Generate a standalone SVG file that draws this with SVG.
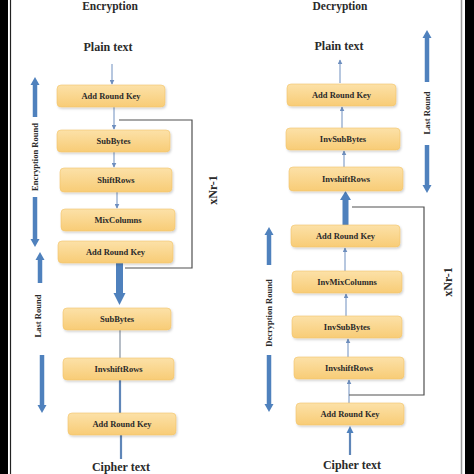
<svg xmlns="http://www.w3.org/2000/svg" width="474" height="474" viewBox="0 0 474 474">
<defs>
<linearGradient id="boxg" x1="0" y1="0" x2="0" y2="1">
<stop offset="0" stop-color="#FCE1A8"/>
<stop offset="1" stop-color="#F8CC76"/>
</linearGradient>
<filter id="sh" x="-10%" y="-20%" width="120%" height="160%">
<feDropShadow dx="1" dy="1.5" stdDeviation="1.2" flood-color="#000" flood-opacity="0.18"/>
</filter>
<marker id="ah" viewBox="0 0 8 8" refX="7" refY="4" markerWidth="5" markerHeight="5" markerUnits="userSpaceOnUse" orient="auto">
<path d="M0,0 L8,4 L0,8 z" fill="#6E8FBF"/>
</marker>
</defs>
<style>
.box{fill:url(#boxg);stroke:#F2C46A;stroke-width:0.6;filter:url(#sh)}
.bl{font-family:"Liberation Serif","Times New Roman",serif;font-weight:bold;font-size:8.5px;fill:#2a2a2a;text-anchor:middle}
.ttl{font-family:"Liberation Serif","Times New Roman",serif;font-weight:bold;font-size:11.5px;fill:#2a2a2a;text-anchor:middle}
.io{font-family:"Liberation Serif","Times New Roman",serif;font-weight:bold;font-size:12px;fill:#2a2a2a;text-anchor:middle}
.vt{font-family:"Liberation Serif","Times New Roman",serif;font-weight:bold;font-size:8.5px;fill:#2a2a2a;text-anchor:middle}
.xn{font-family:"Liberation Serif","Times New Roman",serif;font-weight:bold;font-size:12px;fill:#2a2a2a;text-anchor:middle}
.thin{stroke:#6E8FBF;stroke-width:1;fill:none}
.mid{stroke:#5F86B8;stroke-width:2.2;fill:none}
.grey{stroke:#8E9AA8;stroke-width:1.3;fill:none}
.fb{stroke:#505050;stroke-width:1.2;fill:none}
.bar{stroke:#4F81BD;stroke-width:4.5;fill:none}
.head{fill:#4F81BD}
</style>
<rect x="0" y="0" width="474" height="474" fill="#ffffff"/>
<g id="frame">
<rect x="0" y="0" width="8" height="474" fill="#000"/>
<line x1="10.5" y1="0" x2="10.5" y2="474" stroke="#222" stroke-width="1.2"/>
<rect x="465" y="0" width="9" height="474" fill="#000"/>
<line x1="461.5" y1="0" x2="461.5" y2="474" stroke="#999" stroke-width="1.5"/>
</g>
<g id="titles">
<text class="ttl" x="110" y="10">Encryption</text>
<text class="ttl" x="340" y="10">Decryption</text>
</g>
<g id="connectors">
<line class="thin" x1="112" y1="64" x2="112" y2="84" marker-end="url(#ah)"/>
<line class="thin" x1="114" y1="107" x2="114" y2="129" marker-end="url(#ah)"/>
<line class="thin" x1="114" y1="152" x2="114" y2="167" marker-end="url(#ah)"/>
<line class="thin" x1="117" y1="192" x2="117" y2="208" marker-end="url(#ah)"/>
<rect x="116" y="263" width="7" height="31" fill="#4F81BD"/>
<polygon class="head" points="113.5,293 125.5,293 119.5,305"/>
<line class="grey" x1="120" y1="330" x2="120" y2="358"/>
<line class="mid" x1="120" y1="380" x2="120" y2="413"/>
<line class="mid" x1="121" y1="435" x2="121" y2="459"/>
<polyline class="fb" points="119,120 192,120 192,268 125,268"/>
<line class="thin" x1="340" y1="83" x2="340" y2="60" marker-end="url(#ah)"/>
<line class="thin" x1="342" y1="128" x2="342" y2="107" marker-end="url(#ah)"/>
<line class="thin" x1="344" y1="167" x2="344" y2="151" marker-end="url(#ah)"/>
<rect x="342.5" y="199" width="6" height="26" fill="#4F81BD"/>
<polygon class="head" points="340,200 351,200 345.5,191"/>
<line class="thin" x1="345" y1="271" x2="345" y2="248" marker-end="url(#ah)"/>
<line class="thin" x1="346" y1="316" x2="346" y2="294" marker-end="url(#ah)"/>
<line class="thin" x1="348" y1="357" x2="348" y2="339" marker-end="url(#ah)"/>
<line class="thin" x1="349" y1="403" x2="349" y2="380" marker-end="url(#ah)"/>
<line class="mid" x1="350" y1="455" x2="350" y2="432"/>
<polygon class="head" points="346.5,433 353.5,433 350,426"/>
<polyline class="fb" points="352,207 424,207 424,395 349,395"/>
</g>
<g id="annotations">
<line class="bar" x1="35" y1="117" x2="35" y2="84"/>
<polygon class="head" points="30.5,85 39.5,85 35,77"/>
<line class="bar" x1="35" y1="197" x2="35" y2="240"/>
<polygon class="head" points="30.5,239 39.5,239 35,247"/>
<line class="bar" x1="40" y1="283" x2="40" y2="259"/>
<polygon class="head" points="35.5,260 44.5,260 40,252"/>
<line class="bar" x1="42" y1="355" x2="42" y2="406"/>
<polygon class="head" points="37.5,405 46.5,405 42,413"/>
<line class="bar" x1="427" y1="82" x2="427" y2="37"/>
<polygon class="head" points="422.5,38 431.5,38 427,30"/>
<line class="bar" x1="427" y1="145" x2="427" y2="186"/>
<polygon class="head" points="422.5,185 431.5,185 427,193"/>
<line class="bar" x1="269" y1="265" x2="269" y2="234"/>
<polygon class="head" points="264.5,235 273.5,235 269,227"/>
<line class="bar" x1="269" y1="355" x2="269" y2="405"/>
<polygon class="head" points="264.5,404 273.5,404 269,412"/>
<text class="vt" transform="translate(38,157) rotate(-90)">Encryption Round</text>
<text class="vt" transform="translate(41,316) rotate(-90)">Last Round</text>
<text class="vt" transform="translate(430,113) rotate(-90)">Last Round</text>
<text class="vt" transform="translate(272,313) rotate(-90)">Decryption Round</text>
<text class="xn" transform="translate(217,190) rotate(-90)">xNr-1</text>
<text class="xn" transform="translate(452,282) rotate(-90)">xNr-1</text>
</g>
<g id="enc-plain"><text class="io" x="108" y="51">Plain text</text></g>
<g id="enc-ark1"><rect class="box" x="57" y="85" width="108" height="22" rx="4"/><text class="bl" x="111" y="99">Add Round Key</text></g>
<g id="enc-subbytes1"><rect class="box" x="57" y="130" width="113" height="22" rx="4"/><text class="bl" x="113.5" y="144">SubBytes</text></g>
<g id="enc-shiftrows"><rect class="box" x="60" y="168" width="112" height="24" rx="4"/><text class="bl" x="116" y="183">ShiftRows</text></g>
<g id="enc-mixcolumns"><rect class="box" x="61" y="209" width="114" height="22" rx="4"/><text class="bl" x="118" y="223">MixColumns</text></g>
<g id="enc-ark2"><rect class="box" x="58" y="241" width="115" height="22" rx="4"/><text class="bl" x="115.5" y="255">Add Round Key</text></g>
<g id="enc-subbytes2"><rect class="box" x="63" y="308" width="108" height="22" rx="4"/><text class="bl" x="117" y="322">SubBytes</text></g>
<g id="enc-invshiftrows"><rect class="box" x="63" y="358" width="111" height="22" rx="4"/><text class="bl" x="118.5" y="372">InvshiftRows</text></g>
<g id="enc-ark3"><rect class="box" x="68" y="413" width="108" height="22" rx="4"/><text class="bl" x="122" y="427">Add Round Key</text></g>
<g id="enc-cipher"><text class="io" x="121" y="471">Cipher text</text></g>
<g id="dec-plain"><text class="io" x="339" y="50">Plain text</text></g>
<g id="dec-ark1"><rect class="box" x="287" y="84" width="109" height="22" rx="4"/><text class="bl" x="341.5" y="98">Add Round Key</text></g>
<g id="dec-invsubbytes1"><rect class="box" x="286" y="128" width="114" height="22" rx="4"/><text class="bl" x="343" y="142">InvSubBytes</text></g>
<g id="dec-invshiftrows1"><rect class="box" x="289" y="167" width="114" height="24" rx="4"/><text class="bl" x="346" y="182">InvshiftRows</text></g>
<g id="dec-ark2"><rect class="box" x="291" y="225" width="109" height="22" rx="4"/><text class="bl" x="345.5" y="239">Add Round Key</text></g>
<g id="dec-invmixcolumns"><rect class="box" x="292" y="271" width="110" height="22" rx="4"/><text class="bl" x="347" y="285">InvMixColumns</text></g>
<g id="dec-invsubbytes2"><rect class="box" x="292" y="316" width="110" height="22" rx="4"/><text class="bl" x="347" y="330">InvSubBytes</text></g>
<g id="dec-invshiftrows2"><rect class="box" x="294" y="357" width="110" height="22" rx="4"/><text class="bl" x="349" y="371">InvshiftRows</text></g>
<g id="dec-ark3"><rect class="box" x="296" y="403" width="108" height="22" rx="4"/><text class="bl" x="350" y="417">Add Round Key</text></g>
<g id="dec-cipher"><text class="io" x="352" y="469">Cipher text</text></g>
</svg>
